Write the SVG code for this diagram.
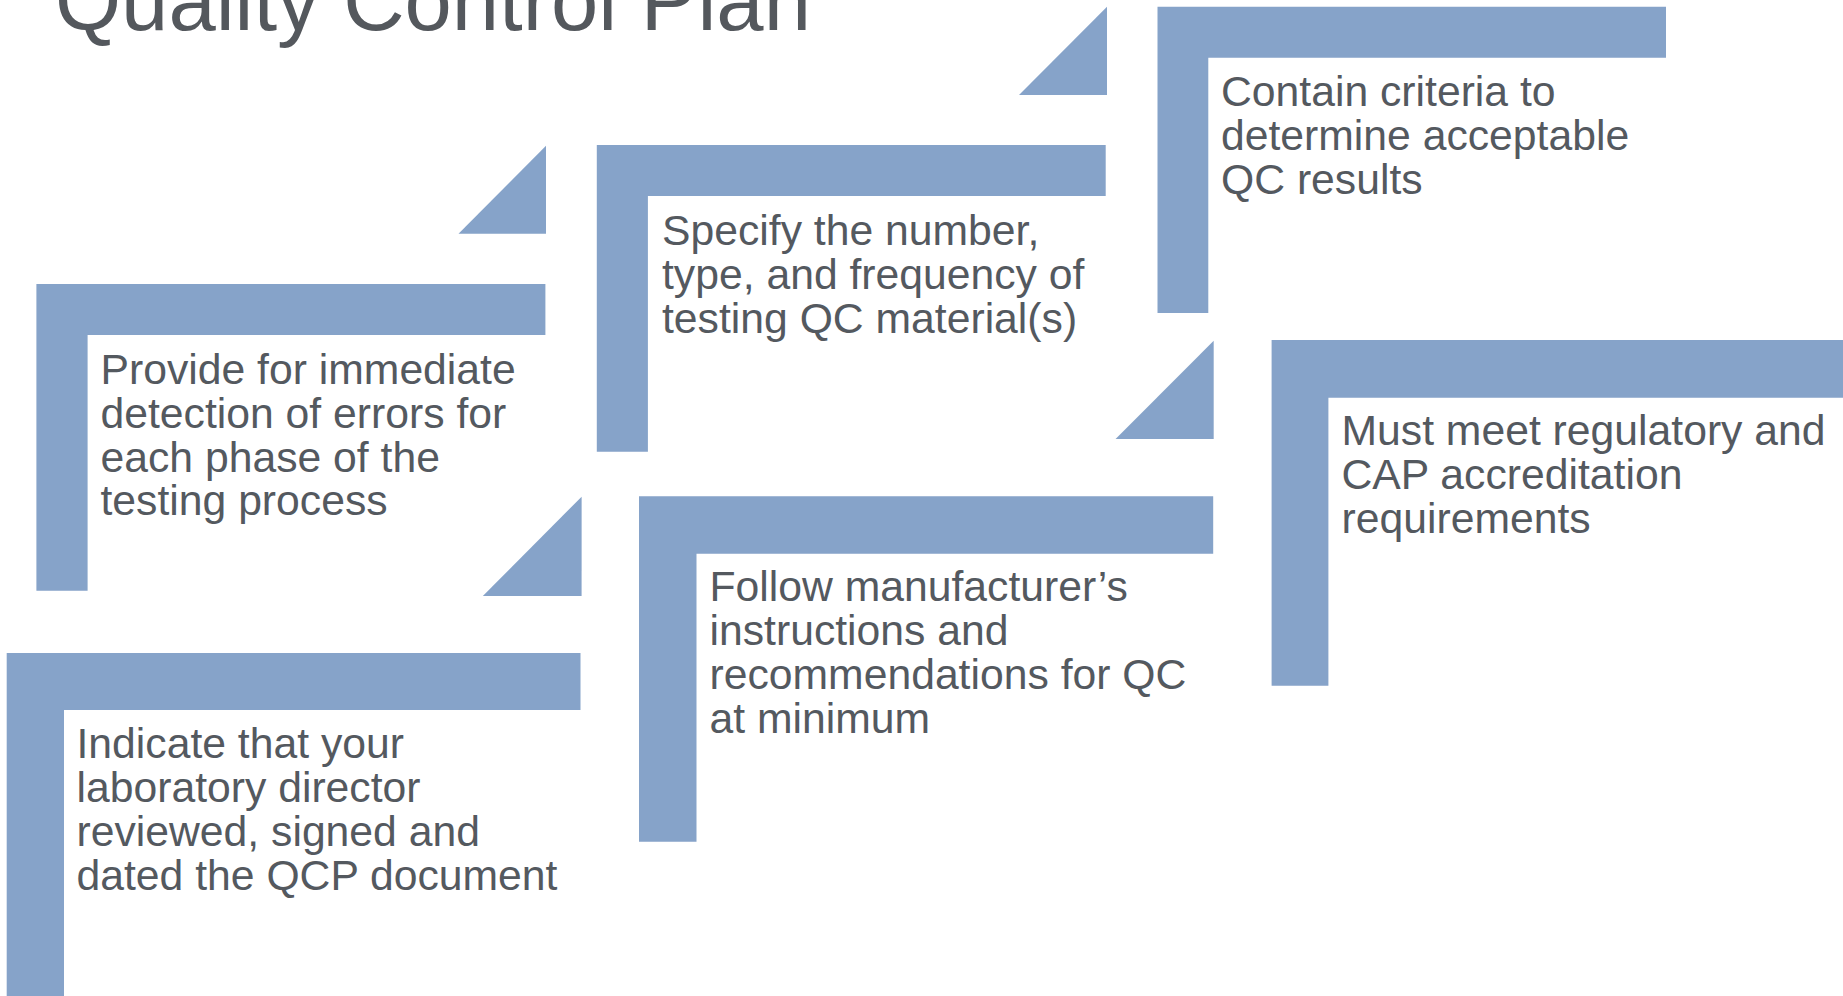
<svg xmlns="http://www.w3.org/2000/svg" width="1843" height="996" viewBox="0 0 1843 996">
<style>
.bar{fill:#86A3C9;}
.tx{font-family:"Liberation Sans",Arial,sans-serif;font-size:42.7px;fill:#54595F;}
.title{font-family:"Liberation Sans",Arial,sans-serif;font-size:85px;fill:#54585D;}
</style>
<rect width="1843" height="996" fill="#FFFFFF"/>
<text class="title" x="55" y="30">Quality Control Plan</text>
<g id="connectors">
<polygon class="bar" points="458.5,233.7 546,145.7 546,233.7"/>
<polygon class="bar" points="1019,95 1107,6.7 1107,95"/>
<polygon class="bar" points="482.8,596 581.6,496.7 581.6,596"/>
<polygon class="bar" points="1115.6,439 1213.7,340.7 1213.7,439"/>
</g>
<g id="step-provide">
<path class="bar" d="M36.4,284 H545.4 V335 H87.6 V590.7 H36.4 Z"/>
<text class="tx" x="100.5" y="384">Provide for immediate</text>
<text class="tx" x="100.5" y="428">detection of errors for</text>
<text class="tx" x="100.5" y="472">each phase of the</text>
<text class="tx" x="100.5" y="515">testing process</text>
</g>
<g id="step-specify">
<path class="bar" d="M596.8,145 H1105.7 V196 H647.9 V451.7 H596.8 Z"/>
<text class="tx" x="662" y="245">Specify the number,</text>
<text class="tx" x="662" y="289">type, and frequency of</text>
<text class="tx" x="662" y="333">testing QC material(s)</text>
</g>
<g id="step-contain">
<path class="bar" d="M1157.5,6.7 H1666 V57.7 H1208.3 V313 H1157.5 Z"/>
<text class="tx" x="1221" y="106">Contain criteria to</text>
<text class="tx" x="1221" y="150">determine acceptable</text>
<text class="tx" x="1221" y="194">QC results</text>
</g>
<g id="step-indicate">
<path class="bar" d="M6.7,653 H580.5 V710 H64 V996 H6.7 Z"/>
<text class="tx" x="76.5" y="758">Indicate that your</text>
<text class="tx" x="76.5" y="802">laboratory director</text>
<text class="tx" x="76.5" y="846">reviewed, signed and</text>
<text class="tx" x="76.5" y="890">dated the QCP document</text>
</g>
<g id="step-follow">
<path class="bar" d="M639,496.3 H1213.2 V553.7 H696.5 V841.7 H639 Z"/>
<text class="tx" x="709.5" y="601">Follow manufacturer’s</text>
<text class="tx" x="709.5" y="645">instructions and</text>
<text class="tx" x="709.5" y="689">recommendations for QC</text>
<text class="tx" x="709.5" y="733">at minimum</text>
</g>
<g id="step-must">
<path class="bar" d="M1271.6,340 H1843 V397.7 H1328.4 V685.7 H1271.6 Z"/>
<text class="tx" x="1341.5" y="445">Must meet regulatory and</text>
<text class="tx" x="1341.5" y="489">CAP accreditation</text>
<text class="tx" x="1341.5" y="533">requirements</text>
</g>
</svg>
